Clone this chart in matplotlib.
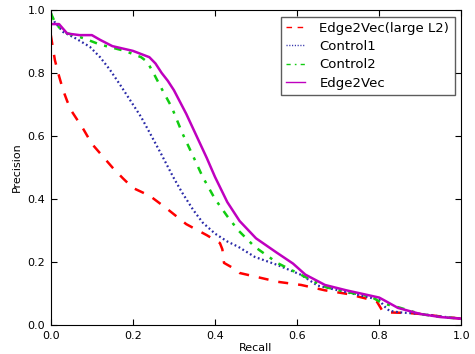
import numpy as np
import matplotlib
matplotlib.use('Agg')
import matplotlib.pyplot as plt

plt.rcParams['font.family'] = 'DejaVu Sans'
plt.rcParams['font.size'] = 8

# Edge2Vec(large L2)
rec_l2 = [0.0, 0.005, 0.01, 0.02, 0.03, 0.04, 0.05, 0.06, 0.08, 0.1, 0.12, 0.15, 0.176, 0.2,
          0.241, 0.282, 0.33, 0.38, 0.412, 0.418, 0.422, 0.445, 0.46, 0.5, 0.553,
          0.61, 0.668, 0.725, 0.783, 0.795, 0.807, 0.82, 0.87, 0.9, 0.95, 1.0]
prec_l2 = [0.92, 0.88, 0.84, 0.79, 0.745, 0.71, 0.68, 0.66, 0.62, 0.575, 0.545, 0.50, 0.465, 0.435,
           0.41, 0.37, 0.32, 0.285, 0.26, 0.24, 0.197, 0.18, 0.165, 0.153, 0.137,
           0.127, 0.11, 0.098, 0.079, 0.073, 0.047, 0.04, 0.038, 0.035, 0.027, 0.02]

# Control1
rec_c1 = [0.0, 0.01, 0.03, 0.06, 0.095, 0.12, 0.144, 0.17, 0.2, 0.22, 0.241, 0.27, 0.298,
          0.32, 0.347, 0.37, 0.4, 0.43, 0.457, 0.497, 0.553, 0.61, 0.65, 0.7, 0.75, 0.8,
          0.812, 0.825, 0.85, 0.9, 0.95, 1.0]
prec_c1 = [0.99, 0.96, 0.93, 0.91, 0.883, 0.85, 0.81, 0.76, 0.70, 0.66, 0.61, 0.54, 0.47,
           0.42, 0.365, 0.325, 0.29, 0.265, 0.248, 0.216, 0.19, 0.159, 0.125, 0.11, 0.095, 0.08,
           0.06, 0.045, 0.04, 0.035, 0.027, 0.02]

# Control2
rec_c2 = [0.0, 0.01, 0.03, 0.08, 0.12, 0.18, 0.22, 0.235, 0.25, 0.27, 0.295, 0.32, 0.347, 0.37,
          0.4, 0.43, 0.457, 0.497, 0.553, 0.61, 0.67, 0.72, 0.78, 0.8, 0.82, 0.85, 0.9, 0.95, 1.0]
prec_c2 = [0.99, 0.96, 0.93, 0.91, 0.89, 0.87, 0.85, 0.835, 0.80, 0.75, 0.69, 0.61, 0.535, 0.47,
           0.40, 0.345, 0.30, 0.248, 0.196, 0.159, 0.12, 0.105, 0.09, 0.075, 0.065, 0.055, 0.035,
           0.025, 0.02]

# Edge2Vec
rec_e = [0.0, 0.02, 0.03, 0.04, 0.07, 0.1, 0.12, 0.15, 0.2, 0.24, 0.255, 0.27, 0.285, 0.30,
         0.33, 0.355, 0.38, 0.40, 0.43, 0.46, 0.5, 0.55, 0.59, 0.62, 0.668, 0.72, 0.8, 0.81,
         0.846, 0.9, 0.95, 1.0]
prec_e = [0.955, 0.955, 0.94, 0.925, 0.92, 0.92, 0.905, 0.885, 0.87, 0.85, 0.83, 0.80, 0.775,
          0.745, 0.67, 0.60, 0.53, 0.47, 0.39, 0.33, 0.275, 0.23, 0.195, 0.16, 0.127, 0.11,
          0.087, 0.08, 0.054, 0.035, 0.025, 0.02]

fig = plt.figure(figsize=(4.75, 3.54), dpi=100)
ax = fig.add_axes([0.107, 0.082, 0.864, 0.89])

ax.plot(rec_l2, prec_l2, color='red', linestyle='--', linewidth=1.8, dashes=(4, 4),
        label='Edge2Vec(large L2)')
ax.plot(rec_c1, prec_c1, color='#2a2aa8', linestyle=':', linewidth=1.6,
        dashes=(0.8, 1.2), label='Control1')
ax.plot(rec_c2, prec_c2, color='#11cc11', linestyle='-.', linewidth=1.8,
        dashes=(3, 3, 1.2, 3), label='Control2')
ax.plot(rec_e, prec_e, color='#bf00bf', linestyle='-', linewidth=1.8,
        label='Edge2Vec')

ax.set_xlim(0, 1)
ax.set_ylim(0, 1)
ax.set_xlabel('Recall', labelpad=2)
ax.set_ylabel('Precision', labelpad=4)
ax.tick_params(direction='in', top=True, right=True, length=4, pad=4)

leg = ax.legend(loc='upper right', fancybox=False, edgecolor='#333333',
                fontsize=9.5, handlelength=1.4, handletextpad=1.1,
                labelspacing=0.4, borderaxespad=0.5)
leg.get_frame().set_linewidth(1)
for h in leg.get_lines():
    h.set_linewidth(1)

fig.savefig('out.png', dpi=100)
